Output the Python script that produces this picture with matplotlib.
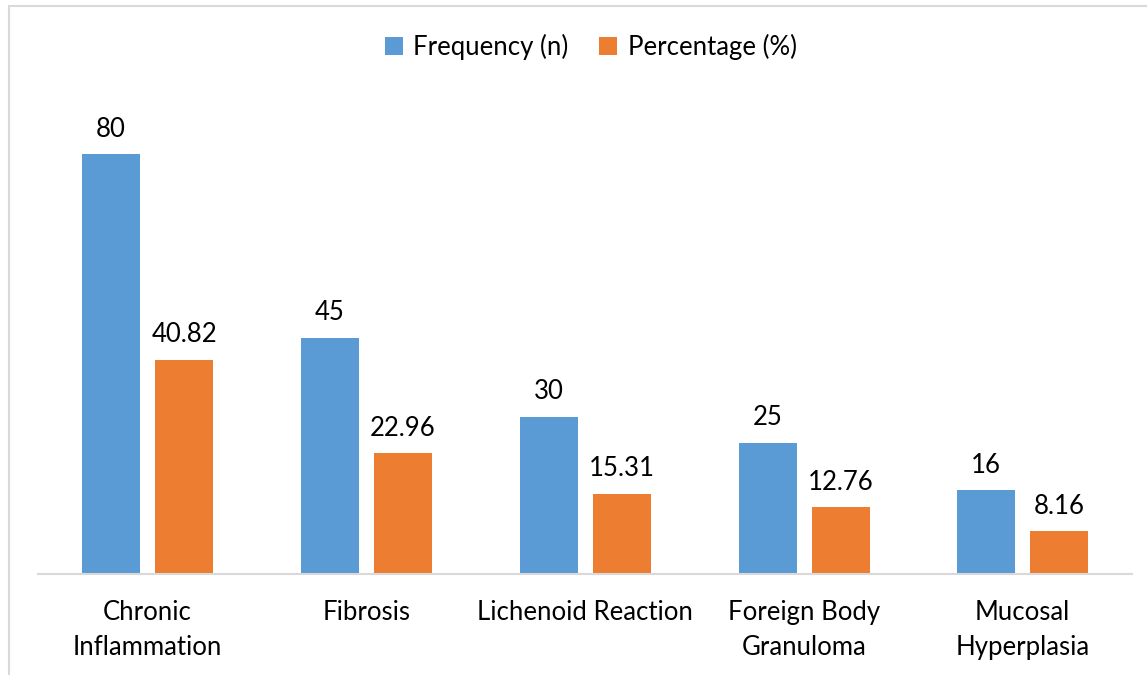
import numpy as np
import matplotlib.pyplot as plt
from matplotlib.patches import Rectangle

categories = ["Chronic\nInflammation", "Fibrosis", "Lichenoid Reaction",
              "Foreign Body\nGranuloma", "Mucosal\nHyperplasia"]
frequency = [80, 45, 30, 25, 16]
percentage = [40.82, 22.96, 15.31, 12.76, 8.16]
freq_labels = ["80", "45", "30", "25", "16"]
pct_labels = ["40.82", "22.96", "15.31", "12.76", "8.16"]

plt.rcParams['font.family'] = ['Lato', 'DejaVu Sans']
fs = 18.5

fig = plt.figure(figsize=(11.47, 6.75), dpi=100)
ax = fig.add_axes([0.0331, 0.1496, 0.9539, 0.70])

x = np.arange(len(categories))
w = 0.265
b1 = ax.bar(x - 0.166, frequency, w, color='#5B9BD5', label='Frequency (n)')
b2 = ax.bar(x + 0.168, percentage, w, color='#ED7D31', label='Percentage (%)')
ax.bar_label(b1, labels=freq_labels, padding=9, fontsize=fs)
ax.bar_label(b2, labels=pct_labels, padding=9, fontsize=fs)

ax.set_xlim(-0.5, len(categories) - 0.5)
ax.set_ylim(0, 90)
ax.set_xticks(x)
ax.set_xticklabels(categories, fontsize=fs, linespacing=1.5)
ax.tick_params(axis='x', length=0, pad=19)
ax.set_yticks([])
for s in ['top', 'right', 'left']:
    ax.spines[s].set_visible(False)
ax.spines['bottom'].set_color('#D9D9D9')
ax.spines['bottom'].set_linewidth(1.5)

fig.legend(loc='center', bbox_to_anchor=(0.515, 0.93), ncol=2, frameon=False,
           fontsize=fs, handlelength=0.7, handleheight=0.7,
           handletextpad=0.4, columnspacing=1.2)

# outer chart border (top/left visible)
fig.patches.append(Rectangle((9 / 1147, -0.05), 1.2, 1 - 6 / 675 + 0.05,
                             transform=fig.transFigure, fill=False,
                             edgecolor='#D9D9D9', linewidth=1.5))

fig.savefig('out.png', dpi=100)
